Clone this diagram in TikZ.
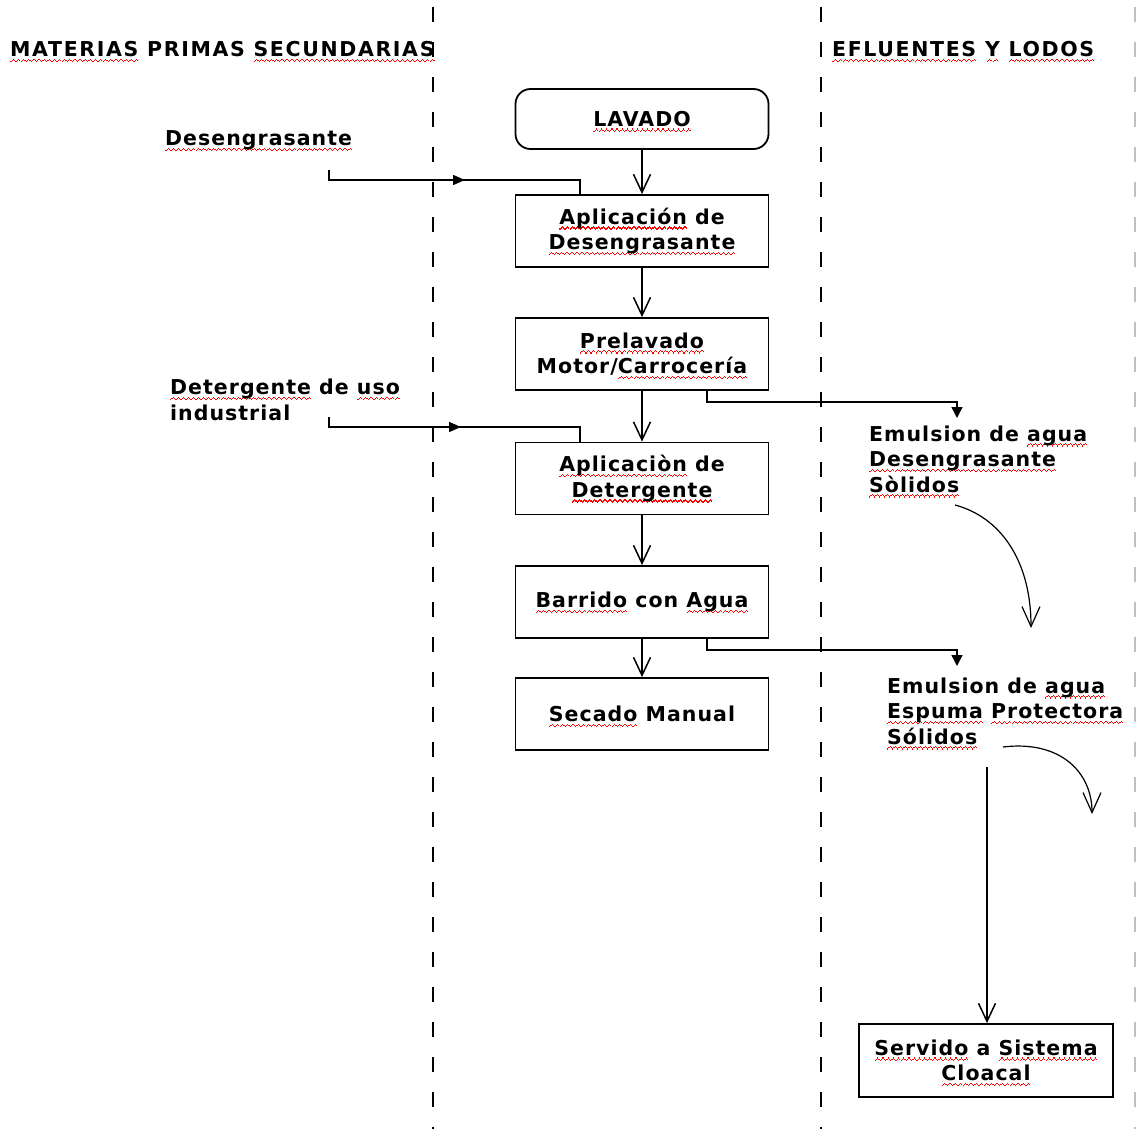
\documentclass[tikz,border=0pt]{standalone}
\usepackage{fontspec}
\usetikzlibrary{arrows.meta,decorations.markings}
\newfontfamily\dfont[LetterSpace=5]{DejaVu Sans}
\newsavebox\rwbox
\newcommand\wavecell{\hbox{\rule[0pt]{1.25pt}{1.3pt}\rule[1.1pt]{1.25pt}{1.3pt}\rule[2.2pt]{1.25pt}{1.3pt}\rule[1.1pt]{1.25pt}{1.3pt}}}
\newcommand\rw[1]{\sbox\rwbox{#1}\rlap{\smash{\raisebox{-5.5pt}{\color{red}\hbox to\wd\rwbox{\xleaders\wavecell\hfill}}}}\usebox\rwbox}
\begin{document}
\begin{tikzpicture}[x=1pt,y=-1pt,
  txt/.style={font=\dfont\bfseries\fontsize{20.5}{25.5}\selectfont, inner sep=0pt, text=black},
  head/.style={txt, font=\dfont\bfseries\fontsize{20.5}{25.5}\selectfont\addfontfeature{LetterSpace=8}},
  procbox/.style={txt, draw, line width=1.8pt, minimum width=253pt, minimum height=72pt, align=center},
  flow/.style={line width=1.5pt, -{Straight Barb[length=18pt,width=17pt]}},
  conn/.style={line width=1.5pt},
  curv/.style={line width=1.2pt, -{Straight Barb[length=20pt,width=18pt]}},
  dashline/.style={line width=2pt, dash pattern=on 15pt off 20pt},
  tri/.style={-{Triangle[length=11pt,width=11pt]}}
]
\fill[white] (0,0) rectangle (1136,1129);
\useasboundingbox (0,0) rectangle (1136,1129);

% lane separators
\draw[dashline] (433,7) -- (433,1129);
\draw[dashline] (821,7) -- (821,1129);
\draw[dashline, black!25] (1135,7) -- (1135,1129);

% headers
\node[head, anchor=base west] (t1) at (10,57) {\rw{MATERIAS} PRIMAS \rw{SECUNDARIAS}};
\node[head, anchor=base west] (t2) at (832,57) {\rw{EFLUENTES} \rw{Y} \rw{LODOS}};

% process boxes
\node[procbox, rounded corners=15pt, minimum height=60pt] (lav) at (642,119) {\rw{LAVADO}};
\node[procbox] (ap1) at (642,231) {\rw{Aplicación} de\\\rw{Desengrasante}};
\node[procbox] (pre) at (642,354) {\rw{Prelavado}\\Motor/\rw{Carrocería}};
\node[procbox] (ap2) at (642,478.5) {\rw{Aplicaciòn} de\\\rw{Detergente}};
\node[procbox] (bar) at (642,602) {\rw{Barrido} con \rw{Agua}};
\node[procbox] (sec) at (642,714) {\rw{Secado} Manual};
\node[procbox, minimum width=254pt, minimum height=73pt] (serv) at (986,1060.5) {\rw{Servido} a \rw{Sistema}\\\rw{Cloacal}};

% labels (base anchor = baseline of last line)
\node[txt, anchor=base west] (lab1) at (165,146) {\rw{Desengrasante}};
\node[txt, anchor=base west, align=left] (lab2) at (170,420) {\rw{Detergente} de \rw{uso}\\industrial};
\node[txt, anchor=base west, align=left] (e1) at (869,492) {Emulsion de \rw{agua}\\\rw{Desengrasante}\\\rw{Sòlidos}};
\node[txt, anchor=base west, align=left] (e2) at (887,744) {Emulsion de \rw{agua}\\\rw{Espuma} \rw{Protectora}\\\rw{Sólidos}};

% main flow
\draw[flow] (lav) -- (ap1);
\draw[flow] (ap1) -- (pre);
\draw[flow] (pre) -- (ap2);
\draw[flow] (ap2) -- (bar);
\draw[flow] (bar) -- (sec);

% inputs
\coordinate (d0) at (329,170);
\coordinate (d1) at (580,180);
\draw[conn, postaction={decorate}, decoration={markings, mark=at position 146pt with {\arrow{Triangle[length=12pt,width=10pt]}}}]
  (d0) |- (d1) -- (d1 |- ap1.north);
\coordinate (g0) at (329,417);
\coordinate (g1) at (580,427);
\draw[conn, postaction={decorate}, decoration={markings, mark=at position 142pt with {\arrow{Triangle[length=12pt,width=10pt]}}}]
  (g0) |- (g1) -- (g1 |- ap2.north);

% outputs
\coordinate (o1) at (957,418);
\draw[conn, tri] ([xshift=65pt]pre.south) -- ++(0,11) -| (o1);
\coordinate (o2) at (957,666);
\draw[conn, tri] ([xshift=65pt]bar.south) -- ++(0,11) -| (o2);

% curved arrows
\coordinate (c1s) at (955,505);
\coordinate (c1e) at (1031,628);
\draw[curv] (c1s) .. controls (1000,517) and (1031,560) .. (c1e);
\coordinate (c2s) at (1003,747);
\coordinate (c2e) at (1092,814);
\draw[curv] (c2s) .. controls (1060,740) and (1092,772) .. (c2e);

% to sewer
\coordinate (v0) at (987,767);
\draw[flow] (v0) -- (v0 |- serv.north);
\end{tikzpicture}
\end{document}
